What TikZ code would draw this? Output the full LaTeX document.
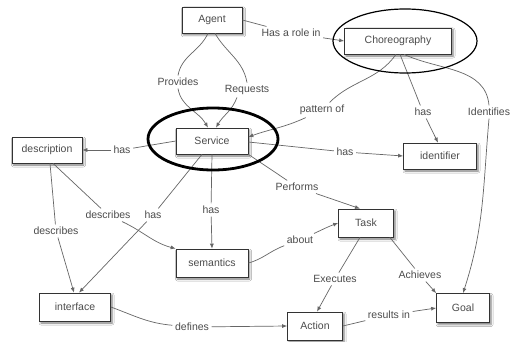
\documentclass[tikz,border=0pt]{standalone}
\usepackage{fontspec}
\newfontfamily\mapfont{Liberation Sans}
\usetikzlibrary{arrows.meta,shadows.blur}
\begin{document}
\begin{tikzpicture}[x=1pt,y=-1pt,
  concept/.style={draw=black!80, line width=0.7pt, fill=white,
    font=\mapfont\fontsize{10.5}{12}\selectfont, text=black!70,
    minimum height=26pt, inner xsep=3pt,
    blur shadow={shadow xshift=1.5pt, shadow yshift=-2pt, shadow blur radius=2pt, shadow opacity=55}},
  lbl/.style={font=\mapfont\fontsize{10.5}{12}\selectfont, text=black!70, inner sep=2.5pt},
  link/.style={draw=black!60, line width=0.7pt},
  arr/.style={link, -{Latex[length=5pt,width=4pt]}}]
\useasboundingbox (0,0) rectangle (513,342);
\fill[white] (0,0) rectangle (513,342);

% concepts
\node[concept, minimum width=60pt] (agent) at (212,20) {Agent};
\node[concept, minimum width=107pt] (chor) at (398,41) {Choreography};
\node[concept, minimum width=72pt] (service) at (212,141) {Service};
\node[concept, minimum width=70pt] (desc) at (47,150) {description};
\node[concept, minimum width=73pt] (ident) at (440,156) {identifier};
\node[concept, minimum width=55pt, minimum height=28pt] (task) at (366,223) {Task};
\node[concept, minimum width=72pt, minimum height=28pt] (sem) at (212,263) {semantics};
\node[concept, minimum width=71pt, minimum height=28pt] (iface) at (75,307) {interface};
\node[concept, minimum width=55pt, minimum height=28pt] (action) at (315,326) {Action};
\node[concept, minimum width=53pt, minimum height=29pt] (goal) at (463,308) {Goal};

% link phrases
\node[lbl] (lrole) at (291,33) {Has a role in};
\node[lbl] (lprov) at (178,82) {Provides};
\node[lbl] (lreq) at (247,90) {Requests};
\node[lbl] (lpat) at (322,110) {pattern of};
\node[lbl] (lhasid) at (423,112) {has};
\node[lbl] (lident) at (489,112) {Identifies};
\node[lbl] (lhasdesc) at (122,150) {has};
\node[lbl] (lhasid2) at (345,152) {has};
\node[lbl] (lperf) at (297,187) {Performs};
\node[lbl] (lhassem) at (211,210) {has};
\node[lbl] (lhasif) at (153,215) {has};
\node[lbl] (ldescsem) at (108,215) {describes};
\node[lbl] (ldescif) at (56,231) {describes};
\node[lbl] (labout) at (300,240) {about};
\node[lbl] (lexec) at (335,279) {Executes};
\node[lbl] (lach) at (420,275) {Achieves};
\node[lbl] (ldef) at (192,327) {defines};
\node[lbl] (lres) at (389,315) {results in};

% links
\draw[link] (agent.east) -- (lrole);
\draw[arr] (lrole) -- (chor.west);

\draw[link] ([xshift=-4pt]agent.south) to[out=-115,in=80] (lprov.north);
\draw[arr] (lprov.south) to[out=-80,in=120] ([xshift=-4pt]service.north);

\draw[link] ([xshift=3pt]agent.south) to[out=-60,in=100] (lreq.north);
\draw[arr] ([xshift=-10pt]lreq.south) to[out=-110,in=60] ([xshift=4pt]service.north);

\draw[link] ([xshift=-2pt]chor.south) to[out=-125,in=45] (lpat);
\draw[arr] (lpat) to[out=-155,in=20] ([yshift=4pt]service.east);

\draw[link] ([xshift=2pt]chor.south) -- (lhasid);
\draw[arr] (lhasid) -- ([xshift=-2pt]ident.north);

\draw[link] ([xshift=6pt]chor.south) to[out=-25,in=95] (lident.north);
\draw[arr] (lident.south) to[out=-95,in=72] (goal.north);

\draw[link] (service.west) -- (lhasdesc);
\draw[arr] (lhasdesc) -- (desc.east);

\draw[link] ([yshift=-1pt]service.east) -- (lhasid2);
\draw[arr] (lhasid2) -- (ident.west);

\draw[link] (service.south east) -- (lperf);
\draw[arr] (lperf) -- ([xshift=-6pt]task.north);

\draw[link] (service.south) -- (lhassem);
\draw[arr] (lhassem) -- (sem.north);

\draw[link] ([xshift=-10pt]service.south) -- (lhasif);
\draw[arr] (lhasif) -- ([xshift=4pt]iface.north);

\draw[link] ([xshift=6pt]desc.south) -- (ldescsem);
\draw[arr] (ldescsem) to[out=-25,in=165] (sem.north west);

\draw[link] ([xshift=3pt]desc.south) -- (ldescif);
\draw[arr] (ldescif) -- ([xshift=-1pt]iface.north);

\draw[link] (sem.east) to[out=15,in=-160] (labout);
\draw[arr] (labout) to[out=25,in=-160] (task.west);

\draw[link] ([xshift=-6pt]task.south) -- (lexec);
\draw[arr] (lexec) -- ([xshift=2pt]action.north);

\draw[link] ([xshift=-4pt]task.south east) -- (lach);
\draw[arr] (lach) -- (goal.north west);

\draw[link] (iface.east) to[out=-20,in=175] (ldef);
\draw[arr] (ldef) -- (action.west);

\draw[link] (action.east) -- (lres);
\draw[arr] (lres) -- (goal.west);

% highlight rings
\draw[line width=1.2pt] (405,41) ellipse [x radius=72, y radius=32];
\draw[line width=2.8pt] (213,139) ellipse [x radius=65, y radius=31];
\end{tikzpicture}
\end{document}
